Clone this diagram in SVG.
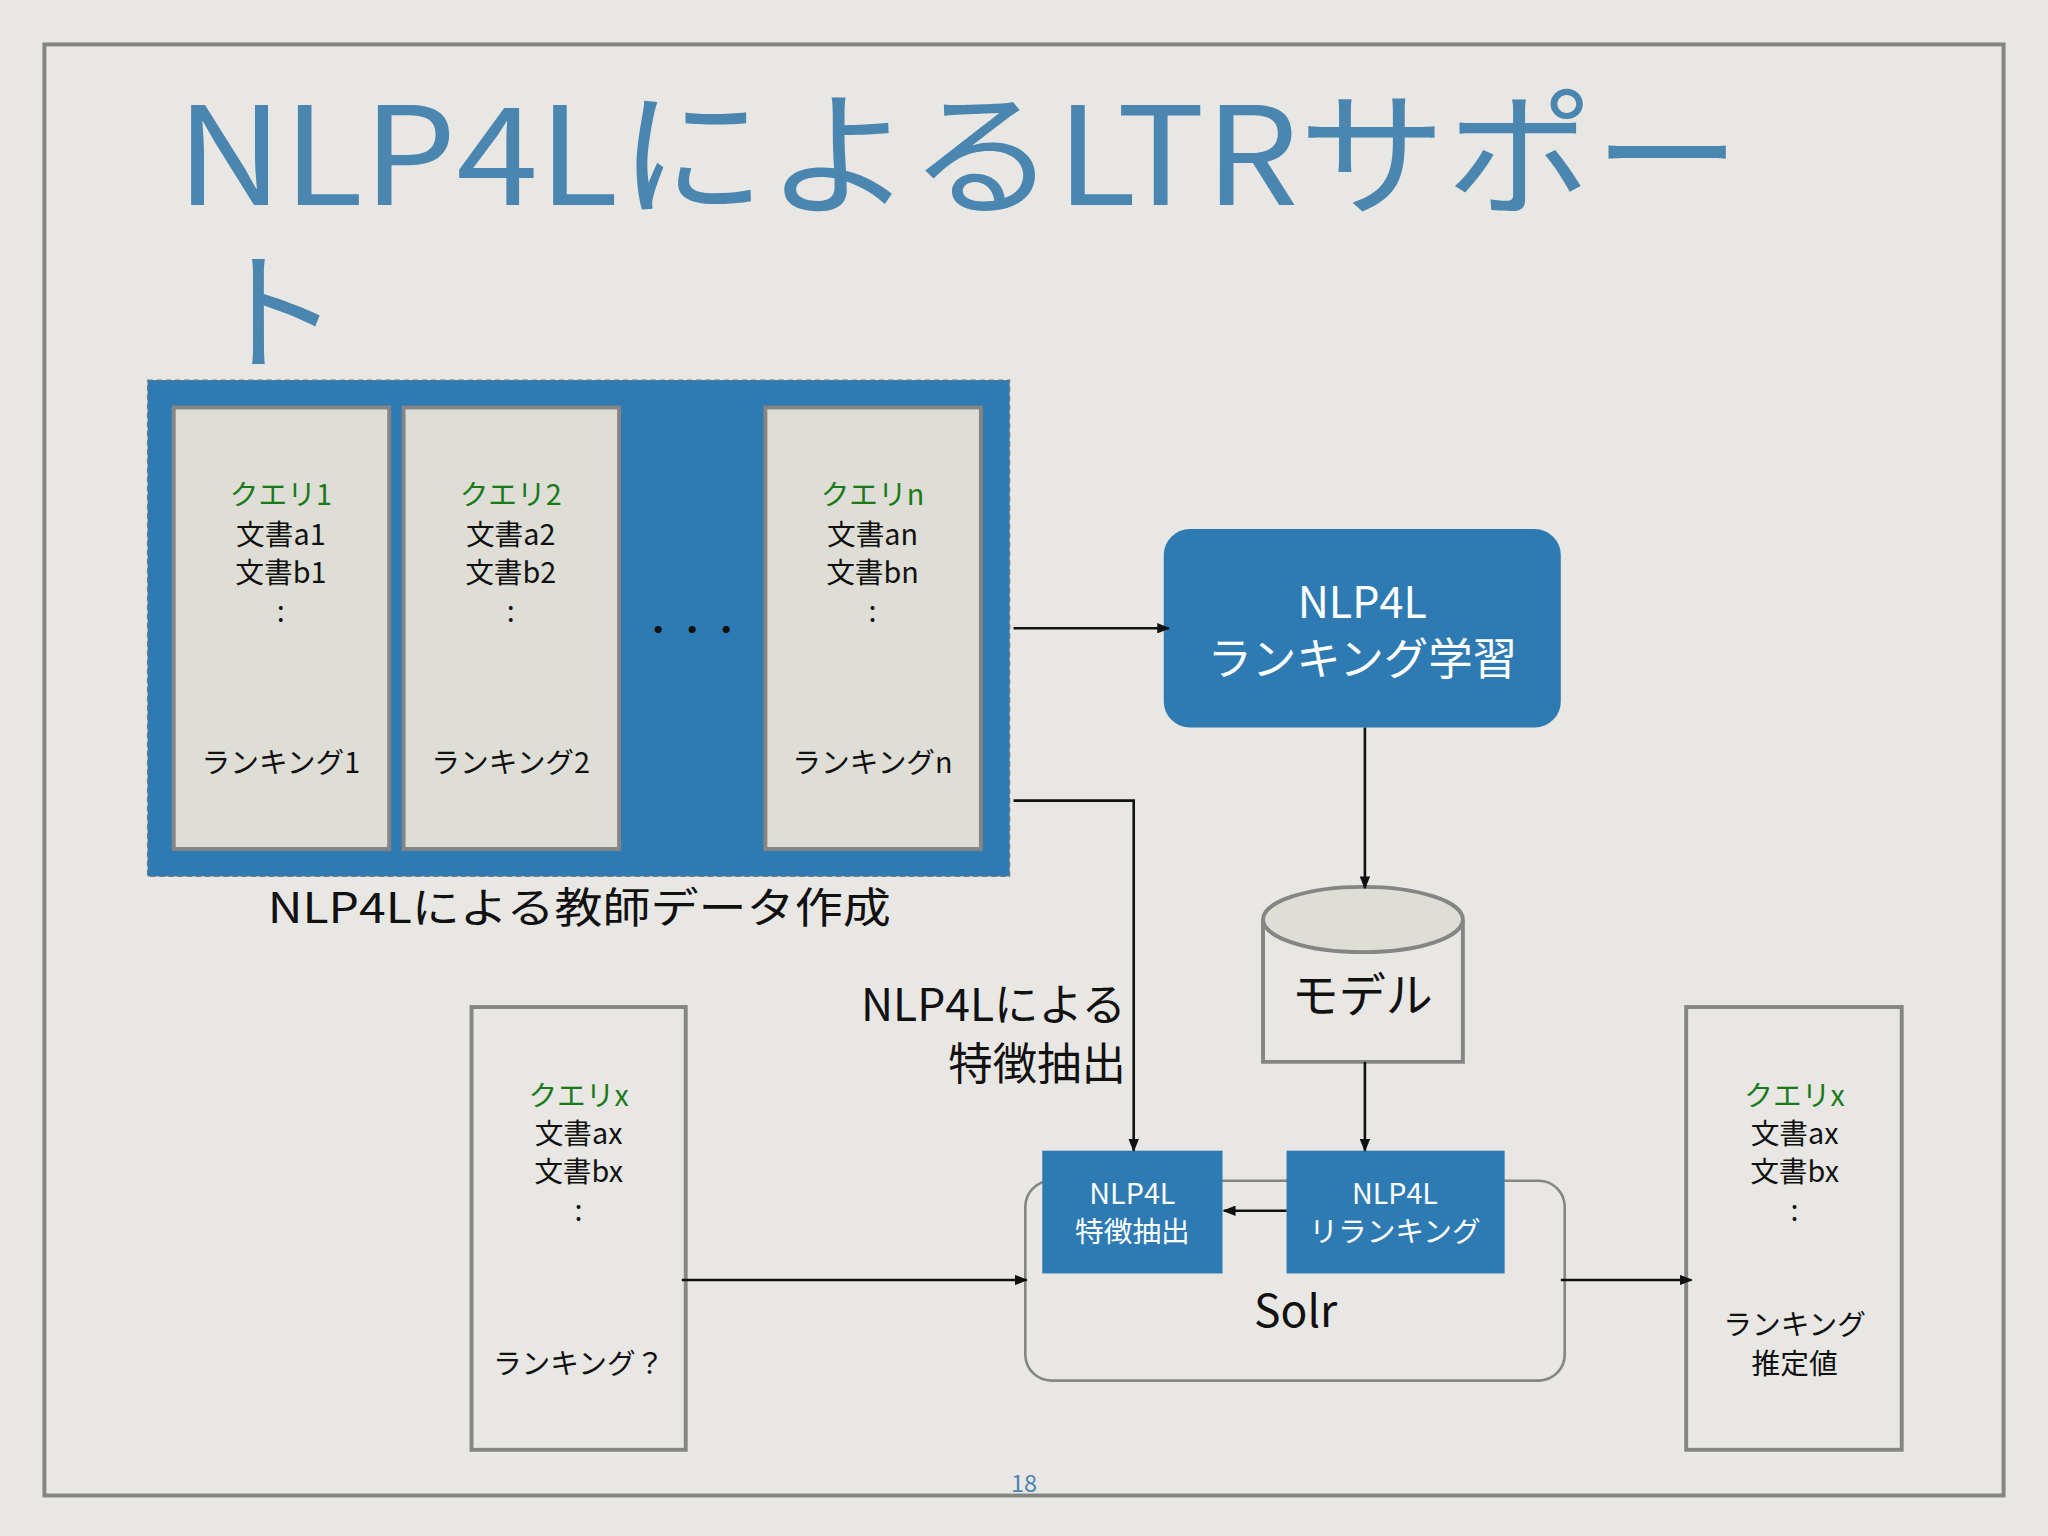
<svg xmlns="http://www.w3.org/2000/svg" width="2048" height="1536" viewBox="0 0 2048 1536">
<defs>
<marker id="ah" markerWidth="10" markerHeight="8" refX="9" refY="4" orient="auto" markerUnits="userSpaceOnUse"><path d="M0,0 L10,4 L0,8 Z" fill="#111"/></marker>
<style>
text{font-family:"Noto Sans CJK JP","Noto Sans",sans-serif;text-anchor:middle;fill:#111}
.card{fill:#deded6;stroke:#858585;stroke-width:3}
.ocard{fill:none;stroke:#858585;stroke-width:3}
.ct{font-size:22px}
.g{fill:#1a7a1a}
.blue{fill:#2e7bb3}
.w{fill:#fff}
.ln{stroke:#111;stroke-width:2;fill:none}
</style>
</defs>
<rect width="2048" height="1536" fill="#e8e7e3"/>
<g transform="scale(1.30612)">
<rect x="34" y="34" width="1500" height="1111" fill="none" stroke="#858585" stroke-width="3"/>
<g id="title"><text x="135" y="157" textLength="1198" lengthAdjust="spacingAndGlyphs" style="text-anchor:start;font-size:104px;fill:#4a86b0">NLP4LによるLTRサポー</text><text x="160" y="276" style="text-anchor:start;font-size:100px;fill:#4a86b0">ト</text></g>
<g id="teacher">
<rect x="113" y="291" width="660" height="380" class="blue" stroke="#777" stroke-dasharray="4 3"/>
<rect x="133" y="312" width="165" height="338" class="card"/>
<rect x="309" y="312" width="165" height="338" class="card"/>
<rect x="586" y="312" width="165" height="338" class="card"/>
<text x="215" y="387" class="g ct">クエリ1</text><text x="215" y="417" class="ct">文書a1</text><text x="215" y="446" class="ct">文書b1</text><text x="215" y="476" class="ct">:</text><text x="215" y="592" class="ct">ランキング1</text>
<text x="391" y="387" class="g ct">クエリ2</text><text x="391" y="417" class="ct">文書a2</text><text x="391" y="446" class="ct">文書b2</text><text x="391" y="476" class="ct">:</text><text x="391" y="592" class="ct">ランキング2</text>
<text x="668" y="387" class="g ct">クエリn</text><text x="668" y="417" class="ct">文書an</text><text x="668" y="446" class="ct">文書bn</text><text x="668" y="476" class="ct">:</text><text x="668" y="592" class="ct">ランキングn</text>
<text x="530" y="492" style="font-size:26px">・・・</text>
<text x="205" y="707" textLength="477" lengthAdjust="spacingAndGlyphs" style="text-anchor:start;font-size:32px">NLP4Lによる教師データ作成</text>
</g>
<g id="learn"><rect x="891" y="405" width="304" height="152" rx="20" class="blue"/><text x="1043" y="473" class="w" style="font-size:33px">NLP4L</text><text x="1043" y="517" class="w" style="font-size:34px">ランキング学習</text></g>
<g id="model"><path d="M967,704 V813 H1120 V704" fill="#e8e7e3" stroke="#858585" stroke-width="3"/><ellipse cx="1043.5" cy="704" rx="76.5" ry="25" fill="#deded6" stroke="#858585" stroke-width="3"/><text x="1043" y="775" style="font-size:36px">モデル</text></g>
<g id="solr"><rect x="785" y="904" width="413" height="153" rx="20" fill="none" stroke="#858585" stroke-width="2"/><text x="992" y="1016" style="font-size:34px">Solr</text></g>
<g id="feat"><rect x="798" y="881" width="138" height="94" class="blue"/><text x="867" y="922" class="w ct">NLP4L</text><text x="867" y="951" class="w ct">特徴抽出</text></g>
<g id="rerank"><rect x="985" y="881" width="167" height="94" class="blue"/><text x="1068" y="922" class="w ct">NLP4L</text><text x="1068" y="951" class="w ct">リランキング</text></g>
<g id="qx"><rect x="361" y="771" width="164" height="339" class="ocard"/><text x="443" y="847" class="g ct">クエリx</text><text x="443" y="876" class="ct">文書ax</text><text x="443" y="905" class="ct">文書bx</text><text x="443" y="935" class="ct">:</text><text x="443" y="1052" class="ct">ランキング？</text></g>
<g id="out"><rect x="1291" y="771" width="165" height="339" class="ocard"/><text x="1374" y="847" class="g ct">クエリx</text><text x="1374" y="876" class="ct">文書ax</text><text x="1374" y="905" class="ct">文書bx</text><text x="1374" y="935" class="ct">:</text><text x="1374" y="1022" class="ct">ランキング</text><text x="1374" y="1052" class="ct">推定値</text></g>
<g id="connectors">
<path d="M776,481 H895" class="ln" marker-end="url(#ah)"/>
<path d="M1045,557 V680" class="ln" marker-end="url(#ah)"/>
<path d="M1045,813 V881" class="ln" marker-end="url(#ah)"/>
<path d="M776,613 H868 V881" class="ln" marker-end="url(#ah)"/>
<path d="M985,927 H937" class="ln" marker-end="url(#ah)"/>
<path d="M522,980 H786" class="ln" marker-end="url(#ah)"/>
<path d="M1195,980 H1295" class="ln" marker-end="url(#ah)"/>
<text x="862" y="782" style="text-anchor:end;font-size:34px">NLP4Lによる</text>
<text x="862" y="827" style="text-anchor:end;font-size:34px">特徴抽出</text>
</g>
<text x="784" y="1142" style="font-size:18px;fill:#4a86b0">18</text>
</g>
</svg>
